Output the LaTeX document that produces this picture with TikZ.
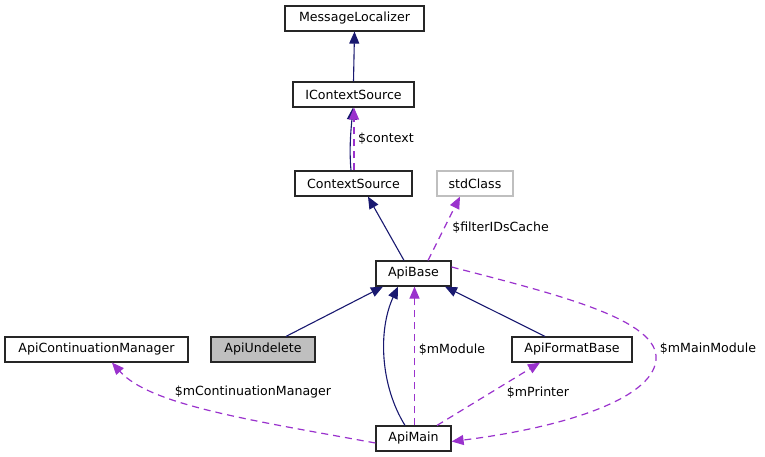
\documentclass[tikz,border=0pt]{standalone}
\usepackage{fontspec}
\setmainfont{DejaVu Sans}
\usetikzlibrary{arrows.meta}
\definecolor{navyc}{HTML}{191970}
\definecolor{purp}{HTML}{9A32CD}
\definecolor{boxgray}{HTML}{BFBFBF}
\begin{document}
\begin{tikzpicture}[x=1pt,y=-1pt,
  font=\fontsize{12.6}{15}\selectfont,
  cls/.style={draw=black!85, line width=1.2pt, fill=white, rectangle, inner sep=0pt, minimum height=25pt},
  inh/.style={draw=navyc, line width=1.1pt, -{Triangle[length=12pt,width=10pt]}},
  use/.style={draw=purp, line width=1.2pt, dash pattern=on 7pt off 5pt, -{Triangle[length=12pt,width=10pt]}},
  lbl/.style={inner sep=0pt, text=black}]
\useasboundingbox (0,0) rectangle (765,457);

\node[cls, minimum width=139pt] (msgloc) at (354.5,18.5) {MessageLocalizer};
\node[cls, minimum width=121pt] (ictx) at (353.5,94.5) {IContextSource};
\node[cls, minimum width=117pt] (ctx) at (353.5,183.5) {ContextSource};
\node[cls, draw=boxgray, minimum width=76pt] (std) at (475,183.5) {stdClass};
\node[cls, minimum width=75pt] (apibase) at (413.5,273.5) {ApiBase};
\node[cls, minimum width=183pt] (acm) at (96.5,349.5) {ApiContinuationManager};
\node[cls, fill=boxgray, minimum width=104pt] (undel) at (263,349.5) {ApiUndelete};
\node[cls, minimum width=120pt] (afb) at (572,349.5) {ApiFormatBase};
\node[cls, minimum width=75pt] (apimain) at (413.5,438.5) {ApiMain};

% inheritance
\draw[inh] (ictx.north) -- (msgloc.south);
\draw[inh] ([xshift=-2.5pt]ctx.north) .. controls +(-2,-22) and +(-2,22) .. ([xshift=-0.5pt]ictx.south);
\draw[inh] ([xshift=-9.5pt]apibase.north) -- ([xshift=14.5pt]ctx.south);
\draw[inh] ([xshift=23pt]undel.north) -- ([xshift=-30.5pt]apibase.south);
\draw[inh] ([xshift=-8.5pt]apimain.north) .. controls (380,385) and (378,330) .. ([xshift=-15.5pt]apibase.south);
\draw[inh] ([xshift=-27pt]afb.north) -- ([xshift=31.5pt]apibase.south);

% usage
\draw[use] ([xshift=0.5pt]ctx.north) -- ([xshift=0.5pt]ictx.south);
\node[lbl, anchor=west] (lctx) at (358,138.5) {\$context};
\draw[use] ([xshift=14.5pt]apibase.north) -- ([xshift=-15pt]std.south);
\node[lbl] (lfilt) at (500.5,227.5) {\$filterIDsCache};
\draw[use] ([xshift=1pt]apimain.north) -- ([xshift=1pt]apibase.south);
\node[lbl] (lmod) at (452,349.5) {\$mModule};
\draw[use] ([xshift=23.5pt]apimain.north) -- ([xshift=-32pt]afb.south);
\node[lbl] (lprn) at (538,392.5) {\$mPrinter};
\draw[use] ([yshift=-4.5pt]apimain.west) .. controls (250,420) and (150,405) .. ([xshift=15.5pt]acm.south);
\node[lbl] (lcm) at (253,392.5) {\$mContinuationManager};
\coordinate (mmturn) at (656,360);
\draw[use] ([yshift=6.5pt]apibase.east) .. controls (560,295) and (660,320) .. (mmturn) .. controls (652,400) and (560,428) .. ([yshift=-3pt]apimain.east);
\node[lbl] (lmm) at (708,349) {\$mMainModule};
\end{tikzpicture}
\end{document}
